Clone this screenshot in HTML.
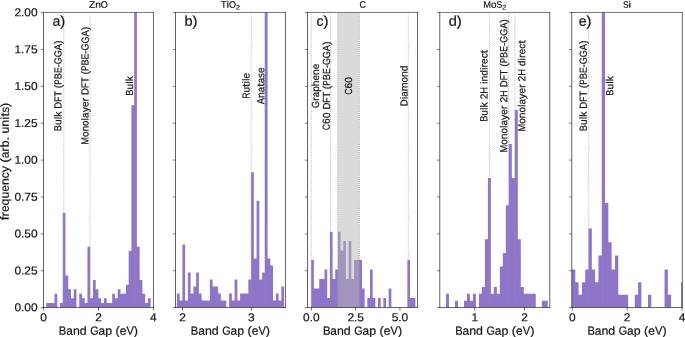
<!DOCTYPE html>
<html><head><meta charset="utf-8"><title>Band gap histograms</title>
<style>html,body{margin:0;padding:0;background:#fff}svg{display:block;will-change:transform}text{font-family:"Liberation Sans",sans-serif;fill:#141414;stroke:#141414;stroke-width:0.2px}</style></head><body>
<svg width="685" height="337" viewBox="0 0 685 337">
<rect x="0" y="0" width="685" height="337" fill="#fff"/>
<defs>
<clipPath id="cp0"><rect x="43.50" y="12.50" width="109.95" height="295.00"/></clipPath>
<clipPath id="cp1"><rect x="175.50" y="12.50" width="109.95" height="295.00"/></clipPath>
<clipPath id="cp2"><rect x="307.50" y="12.50" width="110.05" height="295.00"/></clipPath>
<clipPath id="cp3"><rect x="439.75" y="12.50" width="110.05" height="295.00"/></clipPath>
<clipPath id="cp4"><rect x="571.75" y="12.50" width="110.55" height="295.00"/></clipPath>
</defs>
<g clip-path="url(#cp0)">
<path d="M43.50 307.50 L43.50 307.50 L46.25 307.50 L46.25 302.93 L48.99 302.93 L48.99 302.93 L51.74 302.93 L51.74 302.93 L54.49 302.93 L54.49 293.78 L57.24 293.78 L57.24 307.50 L59.98 307.50 L59.98 302.93 L62.73 302.93 L62.73 213.10 L65.48 213.10 L65.48 275.49 L68.23 275.49 L68.23 289.21 L70.97 289.21 L70.97 298.36 L73.72 298.36 L73.72 289.21 L76.47 289.21 L76.47 307.50 L79.22 307.50 L79.22 293.78 L81.97 293.78 L81.97 298.36 L84.71 298.36 L84.71 302.93 L87.46 302.93 L87.46 246.73 L90.21 246.73 L90.21 298.36 L92.95 298.36 L92.95 280.06 L95.70 280.06 L95.70 289.21 L98.45 289.21 L98.45 298.36 L101.20 298.36 L101.20 302.93 L103.94 302.93 L103.94 298.36 L106.69 298.36 L106.69 302.93 L109.44 302.93 L109.44 302.93 L112.19 302.93 L112.19 293.78 L114.94 293.78 L114.94 298.36 L117.68 298.36 L117.68 289.21 L120.43 289.21 L120.43 293.78 L123.18 293.78 L123.18 293.78 L125.92 293.78 L125.92 284.64 L128.67 284.64 L128.67 251.01 L131.42 251.01 L131.42 105.28 L134.17 105.28 L134.17 -31.75 L136.92 -31.75 L136.92 246.73 L139.66 246.73 L139.66 280.06 L142.41 280.06 L142.41 293.78 L145.16 293.78 L145.16 302.93 L147.91 302.93 L147.91 298.36 L150.65 298.36 L150.65 307.50 L153.40 307.50 L153.40 307.50 Z" fill="#8f75c9"/>
<line x1="63.80" y1="307.50" x2="63.80" y2="12.50" stroke="#959595" stroke-width="0.8" stroke-dasharray="0.8 1.26"/>
<line x1="90.05" y1="307.50" x2="90.05" y2="12.50" stroke="#959595" stroke-width="0.8" stroke-dasharray="0.8 1.26"/>
<line x1="135.90" y1="307.50" x2="135.90" y2="12.50" stroke="#959595" stroke-width="0.8" stroke-dasharray="0.8 1.26"/>
</g>
<path d="M43.50 12.20V307.80M153.45 12.20V307.80" fill="none" stroke="#000" stroke-width="0.62"/>
<path d="M43.20 12.45H153.75" fill="none" stroke="#000" stroke-width="0.54"/>
<path d="M43.20 307.50H153.75" fill="none" stroke="#000" stroke-width="0.6"/>
<line x1="40.80" y1="307.60" x2="43.50" y2="307.60" stroke="#000" stroke-width="0.5"/>
<g transform="translate(37.60 311.30) rotate(0.04)" font-size="11.43"><text x="-23.19" textLength="6.63" lengthAdjust="spacingAndGlyphs">0</text><text x="-16.57" textLength="3.31" lengthAdjust="spacingAndGlyphs">.</text><text x="-13.25" textLength="6.63" lengthAdjust="spacingAndGlyphs">0</text><text x="-6.63" textLength="6.63" lengthAdjust="spacingAndGlyphs">0</text></g>
<line x1="40.80" y1="270.73" x2="43.50" y2="270.73" stroke="#000" stroke-width="0.5"/>
<g transform="translate(37.60 274.43) rotate(0.04)" font-size="11.43"><text x="-23.19" textLength="6.63" lengthAdjust="spacingAndGlyphs">0</text><text x="-16.57" textLength="3.31" lengthAdjust="spacingAndGlyphs">.</text><text x="-13.25" textLength="6.63" lengthAdjust="spacingAndGlyphs">2</text><text x="-6.63" textLength="6.63" lengthAdjust="spacingAndGlyphs">5</text></g>
<line x1="40.80" y1="233.85" x2="43.50" y2="233.85" stroke="#000" stroke-width="0.5"/>
<g transform="translate(37.60 237.55) rotate(0.04)" font-size="11.43"><text x="-23.19" textLength="6.63" lengthAdjust="spacingAndGlyphs">0</text><text x="-16.57" textLength="3.31" lengthAdjust="spacingAndGlyphs">.</text><text x="-13.25" textLength="6.63" lengthAdjust="spacingAndGlyphs">5</text><text x="-6.63" textLength="6.63" lengthAdjust="spacingAndGlyphs">0</text></g>
<line x1="40.80" y1="196.97" x2="43.50" y2="196.97" stroke="#000" stroke-width="0.5"/>
<g transform="translate(37.60 200.68) rotate(0.04)" font-size="11.43"><text x="-23.19" textLength="6.63" lengthAdjust="spacingAndGlyphs">0</text><text x="-16.57" textLength="3.31" lengthAdjust="spacingAndGlyphs">.</text><text x="-13.25" textLength="6.63" lengthAdjust="spacingAndGlyphs">7</text><text x="-6.63" textLength="6.63" lengthAdjust="spacingAndGlyphs">5</text></g>
<line x1="40.80" y1="160.10" x2="43.50" y2="160.10" stroke="#000" stroke-width="0.5"/>
<g transform="translate(37.60 163.80) rotate(0.04)" font-size="11.43"><text x="-23.19" textLength="6.63" lengthAdjust="spacingAndGlyphs">1</text><text x="-16.57" textLength="3.31" lengthAdjust="spacingAndGlyphs">.</text><text x="-13.25" textLength="6.63" lengthAdjust="spacingAndGlyphs">0</text><text x="-6.63" textLength="6.63" lengthAdjust="spacingAndGlyphs">0</text></g>
<line x1="40.80" y1="123.22" x2="43.50" y2="123.22" stroke="#000" stroke-width="0.5"/>
<g transform="translate(37.60 126.92) rotate(0.04)" font-size="11.43"><text x="-23.19" textLength="6.63" lengthAdjust="spacingAndGlyphs">1</text><text x="-16.57" textLength="3.31" lengthAdjust="spacingAndGlyphs">.</text><text x="-13.25" textLength="6.63" lengthAdjust="spacingAndGlyphs">2</text><text x="-6.63" textLength="6.63" lengthAdjust="spacingAndGlyphs">5</text></g>
<line x1="40.80" y1="86.35" x2="43.50" y2="86.35" stroke="#000" stroke-width="0.5"/>
<g transform="translate(37.60 90.05) rotate(0.04)" font-size="11.43"><text x="-23.19" textLength="6.63" lengthAdjust="spacingAndGlyphs">1</text><text x="-16.57" textLength="3.31" lengthAdjust="spacingAndGlyphs">.</text><text x="-13.25" textLength="6.63" lengthAdjust="spacingAndGlyphs">5</text><text x="-6.63" textLength="6.63" lengthAdjust="spacingAndGlyphs">0</text></g>
<line x1="40.80" y1="49.48" x2="43.50" y2="49.48" stroke="#000" stroke-width="0.5"/>
<g transform="translate(37.60 53.17) rotate(0.04)" font-size="11.43"><text x="-23.19" textLength="6.63" lengthAdjust="spacingAndGlyphs">1</text><text x="-16.57" textLength="3.31" lengthAdjust="spacingAndGlyphs">.</text><text x="-13.25" textLength="6.63" lengthAdjust="spacingAndGlyphs">7</text><text x="-6.63" textLength="6.63" lengthAdjust="spacingAndGlyphs">5</text></g>
<line x1="40.80" y1="12.60" x2="43.50" y2="12.60" stroke="#000" stroke-width="0.5"/>
<g transform="translate(37.60 16.30) rotate(0.04)" font-size="11.43"><text x="-23.19" textLength="6.63" lengthAdjust="spacingAndGlyphs">2</text><text x="-16.57" textLength="3.31" lengthAdjust="spacingAndGlyphs">.</text><text x="-13.25" textLength="6.63" lengthAdjust="spacingAndGlyphs">0</text><text x="-6.63" textLength="6.63" lengthAdjust="spacingAndGlyphs">0</text></g>
<line x1="43.55" y1="307.50" x2="43.55" y2="310.60" stroke="#000" stroke-width="0.55"/>
<g transform="translate(43.55 321.30) rotate(0.04)" font-size="11.43"><text x="-3.31" textLength="6.63" lengthAdjust="spacingAndGlyphs">0</text></g>
<line x1="98.50" y1="307.50" x2="98.50" y2="310.60" stroke="#000" stroke-width="0.55"/>
<g transform="translate(98.50 321.30) rotate(0.04)" font-size="11.43"><text x="-3.31" textLength="6.63" lengthAdjust="spacingAndGlyphs">2</text></g>
<line x1="153.40" y1="307.50" x2="153.40" y2="310.60" stroke="#000" stroke-width="0.55"/>
<g transform="translate(153.40 321.30) rotate(0.04)" font-size="11.43"><text x="-3.31" textLength="6.63" lengthAdjust="spacingAndGlyphs">4</text></g>
<g transform="translate(98.47 334.80) rotate(0.04)" font-size="11.90"><text x="-39.64" textLength="7.44" lengthAdjust="spacingAndGlyphs">B</text><text x="-32.19" textLength="6.65" lengthAdjust="spacingAndGlyphs">a</text><text x="-25.54" textLength="6.88" lengthAdjust="spacingAndGlyphs">n</text><text x="-18.66" textLength="6.89" lengthAdjust="spacingAndGlyphs">d</text><text x="-8.32" textLength="8.41" lengthAdjust="spacingAndGlyphs">G</text><text x="0.09" textLength="6.65" lengthAdjust="spacingAndGlyphs">a</text><text x="6.74" textLength="6.89" lengthAdjust="spacingAndGlyphs">p</text><text x="17.08" textLength="4.23" lengthAdjust="spacingAndGlyphs">(</text><text x="21.31" textLength="6.67" lengthAdjust="spacingAndGlyphs">e</text><text x="27.98" textLength="7.42" lengthAdjust="spacingAndGlyphs">V</text><text x="35.40" textLength="4.23" lengthAdjust="spacingAndGlyphs">)</text></g>
<g transform="translate(52.50 25.70) rotate(0.04)" font-size="14.04"><text x="0.00" textLength="7.85" lengthAdjust="spacingAndGlyphs">a</text><text x="7.85" textLength="4.99" lengthAdjust="spacingAndGlyphs">)</text></g>
<g clip-path="url(#cp1)">
<path d="M176.90 307.50 L176.90 293.49 L179.65 293.49 L179.65 300.49 L182.40 300.49 L182.40 244.44 L185.14 244.44 L185.14 300.49 L187.89 300.49 L187.89 272.47 L190.64 272.47 L190.64 293.49 L193.39 293.49 L193.39 286.48 L196.14 286.48 L196.14 272.47 L198.88 272.47 L198.88 293.49 L201.63 293.49 L201.63 300.49 L204.38 300.49 L204.38 300.49 L207.13 300.49 L207.13 300.49 L209.88 300.49 L209.88 279.48 L212.62 279.48 L212.62 286.48 L215.37 286.48 L215.37 286.48 L218.12 286.48 L218.12 293.49 L220.87 293.49 L220.87 300.49 L223.62 300.49 L223.62 300.49 L226.36 300.49 L226.36 307.50 L229.11 307.50 L229.11 293.49 L231.86 293.49 L231.86 300.49 L234.61 300.49 L234.61 279.48 L237.36 279.48 L237.36 300.49 L240.10 300.49 L240.10 293.49 L242.85 293.49 L242.85 293.49 L245.60 293.49 L245.60 293.49 L248.35 293.49 L248.35 279.48 L251.10 279.48 L251.10 172.24 L253.84 172.24 L253.84 258.46 L256.59 258.46 L256.59 200.65 L259.34 200.65 L259.34 279.48 L262.09 279.48 L262.09 272.47 L264.84 272.47 L264.84 -31.75 L267.58 -31.75 L267.58 258.46 L270.33 258.46 L270.33 265.46 L273.08 265.46 L273.08 300.49 L275.83 300.49 L275.83 293.49 L278.58 293.49 L278.58 300.49 L281.32 300.49 L281.32 286.48 L284.07 286.48 L284.07 307.50 Z" fill="#8f75c9"/>
<line x1="251.20" y1="307.50" x2="251.20" y2="12.50" stroke="#959595" stroke-width="0.8" stroke-dasharray="0.8 1.26"/>
<line x1="264.95" y1="307.50" x2="264.95" y2="12.50" stroke="#959595" stroke-width="0.8" stroke-dasharray="0.8 1.26"/>
</g>
<path d="M175.50 12.20V307.80M285.45 12.20V307.80" fill="none" stroke="#000" stroke-width="0.62"/>
<path d="M175.20 12.45H285.75" fill="none" stroke="#000" stroke-width="0.54"/>
<path d="M175.20 307.50H285.75" fill="none" stroke="#000" stroke-width="0.6"/>
<line x1="172.80" y1="307.60" x2="175.50" y2="307.60" stroke="#000" stroke-width="0.5"/>
<line x1="172.80" y1="270.73" x2="175.50" y2="270.73" stroke="#000" stroke-width="0.5"/>
<line x1="172.80" y1="233.85" x2="175.50" y2="233.85" stroke="#000" stroke-width="0.5"/>
<line x1="172.80" y1="196.97" x2="175.50" y2="196.97" stroke="#000" stroke-width="0.5"/>
<line x1="172.80" y1="160.10" x2="175.50" y2="160.10" stroke="#000" stroke-width="0.5"/>
<line x1="172.80" y1="123.22" x2="175.50" y2="123.22" stroke="#000" stroke-width="0.5"/>
<line x1="172.80" y1="86.35" x2="175.50" y2="86.35" stroke="#000" stroke-width="0.5"/>
<line x1="172.80" y1="49.48" x2="175.50" y2="49.48" stroke="#000" stroke-width="0.5"/>
<line x1="172.80" y1="12.60" x2="175.50" y2="12.60" stroke="#000" stroke-width="0.5"/>
<line x1="182.50" y1="307.50" x2="182.50" y2="310.60" stroke="#000" stroke-width="0.55"/>
<g transform="translate(182.50 321.30) rotate(0.04)" font-size="11.43"><text x="-3.31" textLength="6.63" lengthAdjust="spacingAndGlyphs">2</text></g>
<line x1="251.25" y1="307.50" x2="251.25" y2="310.60" stroke="#000" stroke-width="0.55"/>
<g transform="translate(251.25 321.30) rotate(0.04)" font-size="11.43"><text x="-3.31" textLength="6.63" lengthAdjust="spacingAndGlyphs">3</text></g>
<g transform="translate(230.47 334.80) rotate(0.04)" font-size="11.90"><text x="-39.64" textLength="7.44" lengthAdjust="spacingAndGlyphs">B</text><text x="-32.19" textLength="6.65" lengthAdjust="spacingAndGlyphs">a</text><text x="-25.54" textLength="6.88" lengthAdjust="spacingAndGlyphs">n</text><text x="-18.66" textLength="6.89" lengthAdjust="spacingAndGlyphs">d</text><text x="-8.32" textLength="8.41" lengthAdjust="spacingAndGlyphs">G</text><text x="0.09" textLength="6.65" lengthAdjust="spacingAndGlyphs">a</text><text x="6.74" textLength="6.89" lengthAdjust="spacingAndGlyphs">p</text><text x="17.08" textLength="4.23" lengthAdjust="spacingAndGlyphs">(</text><text x="21.31" textLength="6.67" lengthAdjust="spacingAndGlyphs">e</text><text x="27.98" textLength="7.42" lengthAdjust="spacingAndGlyphs">V</text><text x="35.40" textLength="4.23" lengthAdjust="spacingAndGlyphs">)</text></g>
<g transform="translate(184.50 25.70) rotate(0.04)" font-size="14.04"><text x="0.00" textLength="8.13" lengthAdjust="spacingAndGlyphs">b</text><text x="8.13" textLength="4.99" lengthAdjust="spacingAndGlyphs">)</text></g>
<g clip-path="url(#cp2)">
<path d="M311.20 307.50 L311.20 260.08 L313.87 260.08 L313.87 288.53 L316.54 288.53 L316.54 288.53 L319.22 288.53 L319.22 279.05 L321.89 279.05 L321.89 279.05 L324.56 279.05 L324.56 269.56 L327.23 269.56 L327.23 298.02 L329.90 298.02 L329.90 231.63 L332.58 231.63 L332.58 279.05 L335.25 279.05 L335.25 269.56 L337.92 269.56 L337.92 231.63 L340.59 231.63 L340.59 250.59 L343.26 250.59 L343.26 241.11 L345.94 241.11 L345.94 279.05 L348.61 279.05 L348.61 241.11 L351.28 241.11 L351.28 279.05 L353.95 279.05 L353.95 260.08 L356.62 260.08 L356.62 260.08 L359.30 260.08 L359.30 260.08 L361.97 260.08 L361.97 288.53 L364.64 288.53 L364.64 307.50 L367.31 307.50 L367.31 298.02 L369.98 298.02 L369.98 269.56 L372.66 269.56 L372.66 298.02 L375.33 298.02 L375.33 307.50 L378.00 307.50 L378.00 298.02 L380.67 298.02 L380.67 307.50 L383.34 307.50 L383.34 298.02 L386.02 298.02 L386.02 307.50 L388.69 307.50 L388.69 288.53 L391.36 288.53 L391.36 307.50 L394.03 307.50 L394.03 307.50 L396.70 307.50 L396.70 307.50 L399.38 307.50 L399.38 307.50 L402.05 307.50 L402.05 307.50 L404.72 307.50 L404.72 307.50 L407.39 307.50 L407.39 260.08 L410.06 260.08 L410.06 298.02 L412.74 298.02 L412.74 298.02 L415.41 298.02 L415.41 307.50 Z" fill="#8f75c9"/>
<rect x="337.75" y="12.50" width="21.6" height="295.00" fill="#b3b5b4" fill-opacity="0.5"/>
<line x1="311.30" y1="307.50" x2="311.30" y2="12.50" stroke="#959595" stroke-width="0.8" stroke-dasharray="0.8 1.26"/>
<line x1="330.50" y1="307.50" x2="330.50" y2="12.50" stroke="#959595" stroke-width="0.8" stroke-dasharray="0.8 1.26"/>
<line x1="337.75" y1="307.50" x2="337.75" y2="12.50" stroke="#959595" stroke-width="0.8" stroke-dasharray="0.8 1.26"/>
<line x1="359.35" y1="307.50" x2="359.35" y2="12.50" stroke="#959595" stroke-width="0.8" stroke-dasharray="0.8 1.26"/>
<line x1="408.30" y1="307.50" x2="408.30" y2="12.50" stroke="#959595" stroke-width="0.8" stroke-dasharray="0.8 1.26"/>
</g>
<path d="M307.50 12.20V307.80M417.55 12.20V307.80" fill="none" stroke="#000" stroke-width="0.62"/>
<path d="M307.20 12.45H417.85" fill="none" stroke="#000" stroke-width="0.54"/>
<path d="M307.20 307.50H417.85" fill="none" stroke="#000" stroke-width="0.6"/>
<line x1="304.80" y1="307.60" x2="307.50" y2="307.60" stroke="#000" stroke-width="0.5"/>
<line x1="304.80" y1="270.73" x2="307.50" y2="270.73" stroke="#000" stroke-width="0.5"/>
<line x1="304.80" y1="233.85" x2="307.50" y2="233.85" stroke="#000" stroke-width="0.5"/>
<line x1="304.80" y1="196.97" x2="307.50" y2="196.97" stroke="#000" stroke-width="0.5"/>
<line x1="304.80" y1="160.10" x2="307.50" y2="160.10" stroke="#000" stroke-width="0.5"/>
<line x1="304.80" y1="123.22" x2="307.50" y2="123.22" stroke="#000" stroke-width="0.5"/>
<line x1="304.80" y1="86.35" x2="307.50" y2="86.35" stroke="#000" stroke-width="0.5"/>
<line x1="304.80" y1="49.48" x2="307.50" y2="49.48" stroke="#000" stroke-width="0.5"/>
<line x1="304.80" y1="12.60" x2="307.50" y2="12.60" stroke="#000" stroke-width="0.5"/>
<line x1="311.35" y1="307.50" x2="311.35" y2="310.60" stroke="#000" stroke-width="0.55"/>
<g transform="translate(311.35 321.30) rotate(0.04)" font-size="11.43"><text x="-8.28" textLength="6.63" lengthAdjust="spacingAndGlyphs">0</text><text x="-1.66" textLength="3.31" lengthAdjust="spacingAndGlyphs">.</text><text x="1.66" textLength="6.63" lengthAdjust="spacingAndGlyphs">0</text></g>
<line x1="355.65" y1="307.50" x2="355.65" y2="310.60" stroke="#000" stroke-width="0.55"/>
<g transform="translate(355.65 321.30) rotate(0.04)" font-size="11.43"><text x="-8.28" textLength="6.63" lengthAdjust="spacingAndGlyphs">2</text><text x="-1.66" textLength="3.31" lengthAdjust="spacingAndGlyphs">.</text><text x="1.66" textLength="6.63" lengthAdjust="spacingAndGlyphs">5</text></g>
<line x1="399.95" y1="307.50" x2="399.95" y2="310.60" stroke="#000" stroke-width="0.55"/>
<g transform="translate(399.95 321.30) rotate(0.04)" font-size="11.43"><text x="-8.28" textLength="6.63" lengthAdjust="spacingAndGlyphs">5</text><text x="-1.66" textLength="3.31" lengthAdjust="spacingAndGlyphs">.</text><text x="1.66" textLength="6.63" lengthAdjust="spacingAndGlyphs">0</text></g>
<g transform="translate(362.52 334.80) rotate(0.04)" font-size="11.90"><text x="-39.64" textLength="7.44" lengthAdjust="spacingAndGlyphs">B</text><text x="-32.19" textLength="6.65" lengthAdjust="spacingAndGlyphs">a</text><text x="-25.54" textLength="6.88" lengthAdjust="spacingAndGlyphs">n</text><text x="-18.66" textLength="6.89" lengthAdjust="spacingAndGlyphs">d</text><text x="-8.32" textLength="8.41" lengthAdjust="spacingAndGlyphs">G</text><text x="0.09" textLength="6.65" lengthAdjust="spacingAndGlyphs">a</text><text x="6.74" textLength="6.89" lengthAdjust="spacingAndGlyphs">p</text><text x="17.08" textLength="4.23" lengthAdjust="spacingAndGlyphs">(</text><text x="21.31" textLength="6.67" lengthAdjust="spacingAndGlyphs">e</text><text x="27.98" textLength="7.42" lengthAdjust="spacingAndGlyphs">V</text><text x="35.40" textLength="4.23" lengthAdjust="spacingAndGlyphs">)</text></g>
<g transform="translate(316.50 25.70) rotate(0.04)" font-size="14.04"><text x="0.00" textLength="7.04" lengthAdjust="spacingAndGlyphs">c</text><text x="7.04" textLength="4.99" lengthAdjust="spacingAndGlyphs">)</text></g>
<g clip-path="url(#cp3)">
<path d="M440.00 307.50 L440.00 307.50 L442.99 307.50 L442.99 307.50 L445.99 307.50 L445.99 293.87 L448.98 293.87 L448.98 307.50 L451.97 307.50 L451.97 307.50 L454.96 307.50 L454.96 300.69 L457.96 300.69 L457.96 307.50 L460.95 307.50 L460.95 307.50 L463.94 307.50 L463.94 300.69 L466.94 300.69 L466.94 293.87 L469.93 293.87 L469.93 300.69 L472.92 300.69 L472.92 293.87 L475.92 293.87 L475.92 307.50 L478.91 307.50 L478.91 293.87 L481.90 293.87 L481.90 287.06 L484.89 287.06 L484.89 239.36 L487.89 239.36 L487.89 178.02 L490.88 178.02 L490.88 293.87 L493.87 293.87 L493.87 287.06 L496.87 287.06 L496.87 293.87 L499.86 293.87 L499.86 266.61 L502.85 266.61 L502.85 252.98 L505.85 252.98 L505.85 205.28 L508.84 205.28 L508.84 143.95 L511.83 143.95 L511.83 178.02 L514.83 178.02 L514.83 109.88 L517.82 109.88 L517.82 239.36 L520.81 239.36 L520.81 287.06 L523.80 287.06 L523.80 293.87 L526.80 293.87 L526.80 293.87 L529.79 293.87 L529.79 293.87 L532.78 293.87 L532.78 293.87 L535.78 293.87 L535.78 307.50 L538.77 307.50 L538.77 307.50 L541.76 307.50 L541.76 300.69 L544.75 300.69 L544.75 300.69 L547.75 300.69 L547.75 307.50 Z" fill="#8f75c9"/>
<line x1="489.60" y1="307.50" x2="489.60" y2="12.50" stroke="#959595" stroke-width="0.8" stroke-dasharray="0.8 1.26"/>
<line x1="508.60" y1="307.50" x2="508.60" y2="12.50" stroke="#959595" stroke-width="0.8" stroke-dasharray="0.8 1.26"/>
<line x1="514.90" y1="307.50" x2="514.90" y2="12.50" stroke="#959595" stroke-width="0.8" stroke-dasharray="0.8 1.26"/>
</g>
<path d="M439.75 12.20V307.80M549.80 12.20V307.80" fill="none" stroke="#000" stroke-width="0.62"/>
<path d="M439.45 12.45H550.10" fill="none" stroke="#000" stroke-width="0.54"/>
<path d="M439.45 307.50H550.10" fill="none" stroke="#000" stroke-width="0.6"/>
<line x1="437.05" y1="307.60" x2="439.75" y2="307.60" stroke="#000" stroke-width="0.5"/>
<line x1="437.05" y1="270.73" x2="439.75" y2="270.73" stroke="#000" stroke-width="0.5"/>
<line x1="437.05" y1="233.85" x2="439.75" y2="233.85" stroke="#000" stroke-width="0.5"/>
<line x1="437.05" y1="196.97" x2="439.75" y2="196.97" stroke="#000" stroke-width="0.5"/>
<line x1="437.05" y1="160.10" x2="439.75" y2="160.10" stroke="#000" stroke-width="0.5"/>
<line x1="437.05" y1="123.22" x2="439.75" y2="123.22" stroke="#000" stroke-width="0.5"/>
<line x1="437.05" y1="86.35" x2="439.75" y2="86.35" stroke="#000" stroke-width="0.5"/>
<line x1="437.05" y1="49.48" x2="439.75" y2="49.48" stroke="#000" stroke-width="0.5"/>
<line x1="437.05" y1="12.60" x2="439.75" y2="12.60" stroke="#000" stroke-width="0.5"/>
<line x1="474.80" y1="307.50" x2="474.80" y2="310.60" stroke="#000" stroke-width="0.55"/>
<g transform="translate(474.80 321.30) rotate(0.04)" font-size="11.43"><text x="-3.31" textLength="6.63" lengthAdjust="spacingAndGlyphs">1</text></g>
<line x1="524.60" y1="307.50" x2="524.60" y2="310.60" stroke="#000" stroke-width="0.55"/>
<g transform="translate(524.60 321.30) rotate(0.04)" font-size="11.43"><text x="-3.31" textLength="6.63" lengthAdjust="spacingAndGlyphs">2</text></g>
<g transform="translate(494.77 334.80) rotate(0.04)" font-size="11.90"><text x="-39.64" textLength="7.44" lengthAdjust="spacingAndGlyphs">B</text><text x="-32.19" textLength="6.65" lengthAdjust="spacingAndGlyphs">a</text><text x="-25.54" textLength="6.88" lengthAdjust="spacingAndGlyphs">n</text><text x="-18.66" textLength="6.89" lengthAdjust="spacingAndGlyphs">d</text><text x="-8.32" textLength="8.41" lengthAdjust="spacingAndGlyphs">G</text><text x="0.09" textLength="6.65" lengthAdjust="spacingAndGlyphs">a</text><text x="6.74" textLength="6.89" lengthAdjust="spacingAndGlyphs">p</text><text x="17.08" textLength="4.23" lengthAdjust="spacingAndGlyphs">(</text><text x="21.31" textLength="6.67" lengthAdjust="spacingAndGlyphs">e</text><text x="27.98" textLength="7.42" lengthAdjust="spacingAndGlyphs">V</text><text x="35.40" textLength="4.23" lengthAdjust="spacingAndGlyphs">)</text></g>
<g transform="translate(448.75 25.70) rotate(0.04)" font-size="14.04"><text x="0.00" textLength="8.13" lengthAdjust="spacingAndGlyphs">d</text><text x="8.13" textLength="4.99" lengthAdjust="spacingAndGlyphs">)</text></g>
<g clip-path="url(#cp4)">
<path d="M572.00 307.50 L572.00 269.53 L575.30 269.53 L575.30 282.19 L578.61 282.19 L578.61 294.84 L581.91 294.84 L581.91 282.19 L585.22 282.19 L585.22 269.53 L588.52 269.53 L588.52 228.40 L591.83 228.40 L591.83 269.53 L595.13 269.53 L595.13 282.19 L598.44 282.19 L598.44 255.61 L601.75 255.61 L601.75 -31.75 L605.05 -31.75 L605.05 203.09 L608.36 203.09 L608.36 242.32 L611.66 242.32 L611.66 269.53 L614.97 269.53 L614.97 255.61 L618.27 255.61 L618.27 294.84 L621.58 294.84 L621.58 294.84 L624.88 294.84 L624.88 294.84 L628.18 294.84 L628.18 307.50 L631.49 307.50 L631.49 307.50 L634.79 307.50 L634.79 294.84 L638.10 294.84 L638.10 282.19 L641.40 282.19 L641.40 307.50 L644.71 307.50 L644.71 307.50 L648.01 307.50 L648.01 294.84 L651.32 294.84 L651.32 307.50 L654.62 307.50 L654.62 307.50 L657.93 307.50 L657.93 307.50 L661.24 307.50 L661.24 307.50 L664.54 307.50 L664.54 269.53 L667.85 269.53 L667.85 294.84 L671.15 294.84 L671.15 307.50 L674.46 307.50 L674.46 307.50 L677.76 307.50 L677.76 307.50 L681.07 307.50 L681.07 282.19 L684.37 282.19 L684.37 307.50 Z" fill="#8f75c9"/>
<line x1="588.70" y1="307.50" x2="588.70" y2="12.50" stroke="#959595" stroke-width="0.8" stroke-dasharray="0.8 1.26"/>
<line x1="602.60" y1="307.50" x2="602.60" y2="12.50" stroke="#959595" stroke-width="0.8" stroke-dasharray="0.8 1.26"/>
</g>
<path d="M571.75 12.20V307.80M682.30 12.20V307.80" fill="none" stroke="#000" stroke-width="0.62"/>
<path d="M571.45 12.45H682.60" fill="none" stroke="#000" stroke-width="0.54"/>
<path d="M571.45 307.50H682.60" fill="none" stroke="#000" stroke-width="0.6"/>
<line x1="569.05" y1="307.60" x2="571.75" y2="307.60" stroke="#000" stroke-width="0.5"/>
<line x1="569.05" y1="270.73" x2="571.75" y2="270.73" stroke="#000" stroke-width="0.5"/>
<line x1="569.05" y1="233.85" x2="571.75" y2="233.85" stroke="#000" stroke-width="0.5"/>
<line x1="569.05" y1="196.97" x2="571.75" y2="196.97" stroke="#000" stroke-width="0.5"/>
<line x1="569.05" y1="160.10" x2="571.75" y2="160.10" stroke="#000" stroke-width="0.5"/>
<line x1="569.05" y1="123.22" x2="571.75" y2="123.22" stroke="#000" stroke-width="0.5"/>
<line x1="569.05" y1="86.35" x2="571.75" y2="86.35" stroke="#000" stroke-width="0.5"/>
<line x1="569.05" y1="49.48" x2="571.75" y2="49.48" stroke="#000" stroke-width="0.5"/>
<line x1="569.05" y1="12.60" x2="571.75" y2="12.60" stroke="#000" stroke-width="0.5"/>
<line x1="572.30" y1="307.50" x2="572.30" y2="310.60" stroke="#000" stroke-width="0.55"/>
<g transform="translate(572.30 321.30) rotate(0.04)" font-size="11.43"><text x="-3.31" textLength="6.63" lengthAdjust="spacingAndGlyphs">0</text></g>
<line x1="627.10" y1="307.50" x2="627.10" y2="310.60" stroke="#000" stroke-width="0.55"/>
<g transform="translate(627.10 321.30) rotate(0.04)" font-size="11.43"><text x="-3.31" textLength="6.63" lengthAdjust="spacingAndGlyphs">2</text></g>
<line x1="682.00" y1="307.50" x2="682.00" y2="310.60" stroke="#000" stroke-width="0.55"/>
<g transform="translate(682.00 321.30) rotate(0.04)" font-size="11.43"><text x="-3.31" textLength="6.63" lengthAdjust="spacingAndGlyphs">4</text></g>
<g transform="translate(627.02 334.80) rotate(0.04)" font-size="11.90"><text x="-39.64" textLength="7.44" lengthAdjust="spacingAndGlyphs">B</text><text x="-32.19" textLength="6.65" lengthAdjust="spacingAndGlyphs">a</text><text x="-25.54" textLength="6.88" lengthAdjust="spacingAndGlyphs">n</text><text x="-18.66" textLength="6.89" lengthAdjust="spacingAndGlyphs">d</text><text x="-8.32" textLength="8.41" lengthAdjust="spacingAndGlyphs">G</text><text x="0.09" textLength="6.65" lengthAdjust="spacingAndGlyphs">a</text><text x="6.74" textLength="6.89" lengthAdjust="spacingAndGlyphs">p</text><text x="17.08" textLength="4.23" lengthAdjust="spacingAndGlyphs">(</text><text x="21.31" textLength="6.67" lengthAdjust="spacingAndGlyphs">e</text><text x="27.98" textLength="7.42" lengthAdjust="spacingAndGlyphs">V</text><text x="35.40" textLength="4.23" lengthAdjust="spacingAndGlyphs">)</text></g>
<g transform="translate(578.75 25.70) rotate(0.04)" font-size="14.04"><text x="0.00" textLength="7.87" lengthAdjust="spacingAndGlyphs">e</text><text x="7.87" textLength="4.99" lengthAdjust="spacingAndGlyphs">)</text></g>
<g transform="translate(89.00 7.65) rotate(0.04)" font-size="9.38"><text x="0.00" textLength="6.17" lengthAdjust="spacingAndGlyphs">Z</text><text x="6.17" textLength="5.71" lengthAdjust="spacingAndGlyphs">n</text><text x="11.87" textLength="7.08" lengthAdjust="spacingAndGlyphs">O</text></g>
<g transform="translate(220.93 7.65) rotate(0.04)" font-size="9.38"><text x="0.00" textLength="5.50" lengthAdjust="spacingAndGlyphs">T</text><text x="5.50" textLength="2.50" lengthAdjust="spacingAndGlyphs">i</text><text x="8.00" textLength="7.08" lengthAdjust="spacingAndGlyphs">O</text></g>
<g transform="translate(236.01 9.50) rotate(0.04)" font-size="6.56"><text x="0.00" textLength="4.01" lengthAdjust="spacingAndGlyphs">2</text></g>
<g transform="translate(359.38 7.65) rotate(0.04)" font-size="9.38"><text x="0.00" textLength="6.28" lengthAdjust="spacingAndGlyphs">C</text></g>
<g transform="translate(483.28 7.65) rotate(0.04)" font-size="9.38"><text x="0.00" textLength="7.77" lengthAdjust="spacingAndGlyphs">M</text><text x="7.77" textLength="5.51" lengthAdjust="spacingAndGlyphs">o</text><text x="13.27" textLength="5.71" lengthAdjust="spacingAndGlyphs">S</text></g>
<g transform="translate(502.27 9.50) rotate(0.04)" font-size="6.56"><text x="0.00" textLength="4.01" lengthAdjust="spacingAndGlyphs">2</text></g>
<g transform="translate(622.92 7.65) rotate(0.04)" font-size="9.38"><text x="0.00" textLength="5.71" lengthAdjust="spacingAndGlyphs">S</text><text x="5.71" textLength="2.50" lengthAdjust="spacingAndGlyphs">i</text></g>
<g transform="translate(8.85 161.50) rotate(-89.96)" font-size="11.84"><text x="-58.78" textLength="3.80" lengthAdjust="spacingAndGlyphs">f</text><text x="-54.98" textLength="4.44" lengthAdjust="spacingAndGlyphs">r</text><text x="-50.55" textLength="6.64" lengthAdjust="spacingAndGlyphs">e</text><text x="-43.91" textLength="6.86" lengthAdjust="spacingAndGlyphs">q</text><text x="-37.05" textLength="6.84" lengthAdjust="spacingAndGlyphs">u</text><text x="-30.21" textLength="6.64" lengthAdjust="spacingAndGlyphs">e</text><text x="-23.57" textLength="6.84" lengthAdjust="spacingAndGlyphs">n</text><text x="-16.72" textLength="5.94" lengthAdjust="spacingAndGlyphs">c</text><text x="-10.78" textLength="6.39" lengthAdjust="spacingAndGlyphs">y</text><text x="-0.96" textLength="4.21" lengthAdjust="spacingAndGlyphs">(</text><text x="3.25" textLength="6.62" lengthAdjust="spacingAndGlyphs">a</text><text x="9.87" textLength="4.44" lengthAdjust="spacingAndGlyphs">r</text><text x="14.30" textLength="6.86" lengthAdjust="spacingAndGlyphs">b</text><text x="21.16" textLength="3.43" lengthAdjust="spacingAndGlyphs">.</text><text x="28.03" textLength="6.84" lengthAdjust="spacingAndGlyphs">u</text><text x="34.87" textLength="6.84" lengthAdjust="spacingAndGlyphs">n</text><text x="41.71" textLength="3.00" lengthAdjust="spacingAndGlyphs">i</text><text x="44.72" textLength="4.23" lengthAdjust="spacingAndGlyphs">t</text><text x="48.95" textLength="5.62" lengthAdjust="spacingAndGlyphs">s</text><text x="54.57" textLength="4.21" lengthAdjust="spacingAndGlyphs">)</text></g>
<g transform="translate(61.40 85.85) rotate(-89.96)" font-size="10.26"><text x="-45.29" textLength="6.17" lengthAdjust="spacingAndGlyphs">B</text><text x="-39.12" textLength="5.71" lengthAdjust="spacingAndGlyphs">u</text><text x="-33.41" textLength="2.50" lengthAdjust="spacingAndGlyphs">l</text><text x="-30.91" textLength="5.21" lengthAdjust="spacingAndGlyphs">k</text><text x="-22.84" textLength="6.93" lengthAdjust="spacingAndGlyphs">D</text><text x="-15.91" textLength="5.17" lengthAdjust="spacingAndGlyphs">F</text><text x="-10.73" textLength="5.50" lengthAdjust="spacingAndGlyphs">T</text><text x="-2.37" textLength="3.51" lengthAdjust="spacingAndGlyphs">(</text><text x="1.14" textLength="5.43" lengthAdjust="spacingAndGlyphs">P</text><text x="6.57" textLength="6.17" lengthAdjust="spacingAndGlyphs">B</text><text x="12.74" textLength="5.69" lengthAdjust="spacingAndGlyphs">E</text><text x="18.43" textLength="3.25" lengthAdjust="spacingAndGlyphs">-</text><text x="21.68" textLength="6.98" lengthAdjust="spacingAndGlyphs">G</text><text x="28.65" textLength="6.98" lengthAdjust="spacingAndGlyphs">G</text><text x="35.63" textLength="6.16" lengthAdjust="spacingAndGlyphs">A</text><text x="41.78" textLength="3.51" lengthAdjust="spacingAndGlyphs">)</text></g>
<g transform="translate(88.60 85.85) rotate(-89.96)" font-size="10.26"><text x="-59.03" textLength="7.77" lengthAdjust="spacingAndGlyphs">M</text><text x="-51.26" textLength="5.51" lengthAdjust="spacingAndGlyphs">o</text><text x="-45.76" textLength="5.71" lengthAdjust="spacingAndGlyphs">n</text><text x="-40.05" textLength="5.51" lengthAdjust="spacingAndGlyphs">o</text><text x="-34.54" textLength="2.50" lengthAdjust="spacingAndGlyphs">l</text><text x="-32.04" textLength="5.52" lengthAdjust="spacingAndGlyphs">a</text><text x="-26.52" textLength="5.33" lengthAdjust="spacingAndGlyphs">y</text><text x="-21.19" textLength="5.54" lengthAdjust="spacingAndGlyphs">e</text><text x="-15.66" textLength="3.70" lengthAdjust="spacingAndGlyphs">r</text><text x="-9.10" textLength="6.93" lengthAdjust="spacingAndGlyphs">D</text><text x="-2.17" textLength="5.17" lengthAdjust="spacingAndGlyphs">F</text><text x="3.01" textLength="5.50" lengthAdjust="spacingAndGlyphs">T</text><text x="11.37" textLength="3.51" lengthAdjust="spacingAndGlyphs">(</text><text x="14.88" textLength="5.43" lengthAdjust="spacingAndGlyphs">P</text><text x="20.30" textLength="6.17" lengthAdjust="spacingAndGlyphs">B</text><text x="26.48" textLength="5.69" lengthAdjust="spacingAndGlyphs">E</text><text x="32.17" textLength="3.25" lengthAdjust="spacingAndGlyphs">-</text><text x="35.42" textLength="6.98" lengthAdjust="spacingAndGlyphs">G</text><text x="42.39" textLength="6.98" lengthAdjust="spacingAndGlyphs">G</text><text x="49.37" textLength="6.16" lengthAdjust="spacingAndGlyphs">A</text><text x="55.52" textLength="3.51" lengthAdjust="spacingAndGlyphs">)</text></g>
<g transform="translate(132.90 85.85) rotate(-89.96)" font-size="10.26"><text x="-9.80" textLength="6.17" lengthAdjust="spacingAndGlyphs">B</text><text x="-3.62" textLength="5.71" lengthAdjust="spacingAndGlyphs">u</text><text x="2.08" textLength="2.50" lengthAdjust="spacingAndGlyphs">l</text><text x="4.59" textLength="5.21" lengthAdjust="spacingAndGlyphs">k</text></g>
<g transform="translate(249.60 85.85) rotate(-89.96)" font-size="10.26"><text x="-13.01" textLength="6.25" lengthAdjust="spacingAndGlyphs">R</text><text x="-6.76" textLength="5.71" lengthAdjust="spacingAndGlyphs">u</text><text x="-1.05" textLength="3.53" lengthAdjust="spacingAndGlyphs">t</text><text x="2.48" textLength="2.50" lengthAdjust="spacingAndGlyphs">i</text><text x="4.98" textLength="2.50" lengthAdjust="spacingAndGlyphs">l</text><text x="7.48" textLength="5.54" lengthAdjust="spacingAndGlyphs">e</text></g>
<g transform="translate(264.20 85.85) rotate(-89.96)" font-size="10.26"><text x="-18.32" textLength="6.16" lengthAdjust="spacingAndGlyphs">A</text><text x="-12.17" textLength="5.71" lengthAdjust="spacingAndGlyphs">n</text><text x="-6.46" textLength="5.52" lengthAdjust="spacingAndGlyphs">a</text><text x="-0.95" textLength="3.53" lengthAdjust="spacingAndGlyphs">t</text><text x="2.58" textLength="5.52" lengthAdjust="spacingAndGlyphs">a</text><text x="8.10" textLength="4.69" lengthAdjust="spacingAndGlyphs">s</text><text x="12.79" textLength="5.54" lengthAdjust="spacingAndGlyphs">e</text></g>
<g transform="translate(318.90 85.85) rotate(-89.96)" font-size="10.26"><text x="-22.19" textLength="6.98" lengthAdjust="spacingAndGlyphs">G</text><text x="-15.22" textLength="3.70" lengthAdjust="spacingAndGlyphs">r</text><text x="-11.52" textLength="5.52" lengthAdjust="spacingAndGlyphs">a</text><text x="-6.00" textLength="5.71" lengthAdjust="spacingAndGlyphs">p</text><text x="-0.29" textLength="5.71" lengthAdjust="spacingAndGlyphs">h</text><text x="5.42" textLength="5.54" lengthAdjust="spacingAndGlyphs">e</text><text x="10.95" textLength="5.71" lengthAdjust="spacingAndGlyphs">n</text><text x="16.66" textLength="5.54" lengthAdjust="spacingAndGlyphs">e</text></g>
<g transform="translate(329.90 85.85) rotate(-89.96)" font-size="10.26"><text x="-44.36" textLength="6.28" lengthAdjust="spacingAndGlyphs">C</text><text x="-38.08" textLength="5.72" lengthAdjust="spacingAndGlyphs">6</text><text x="-32.36" textLength="5.72" lengthAdjust="spacingAndGlyphs">0</text><text x="-23.77" textLength="6.93" lengthAdjust="spacingAndGlyphs">D</text><text x="-16.84" textLength="5.17" lengthAdjust="spacingAndGlyphs">F</text><text x="-11.66" textLength="5.50" lengthAdjust="spacingAndGlyphs">T</text><text x="-3.30" textLength="3.51" lengthAdjust="spacingAndGlyphs">(</text><text x="0.21" textLength="5.43" lengthAdjust="spacingAndGlyphs">P</text><text x="5.63" textLength="6.17" lengthAdjust="spacingAndGlyphs">B</text><text x="11.81" textLength="5.69" lengthAdjust="spacingAndGlyphs">E</text><text x="17.50" textLength="3.25" lengthAdjust="spacingAndGlyphs">-</text><text x="20.74" textLength="6.98" lengthAdjust="spacingAndGlyphs">G</text><text x="27.72" textLength="6.98" lengthAdjust="spacingAndGlyphs">G</text><text x="34.69" textLength="6.16" lengthAdjust="spacingAndGlyphs">A</text><text x="40.85" textLength="3.51" lengthAdjust="spacingAndGlyphs">)</text></g>
<g transform="translate(352.10 85.85) rotate(-89.96)" font-size="10.26"><text x="-8.87" textLength="6.28" lengthAdjust="spacingAndGlyphs">C</text><text x="-2.58" textLength="5.72" lengthAdjust="spacingAndGlyphs">6</text><text x="3.14" textLength="5.72" lengthAdjust="spacingAndGlyphs">0</text></g>
<g transform="translate(407.50 85.85) rotate(-89.96)" font-size="10.26"><text x="-20.32" textLength="6.93" lengthAdjust="spacingAndGlyphs">D</text><text x="-13.39" textLength="2.50" lengthAdjust="spacingAndGlyphs">i</text><text x="-10.89" textLength="5.52" lengthAdjust="spacingAndGlyphs">a</text><text x="-5.37" textLength="8.77" lengthAdjust="spacingAndGlyphs">m</text><text x="3.39" textLength="5.51" lengthAdjust="spacingAndGlyphs">o</text><text x="8.90" textLength="5.71" lengthAdjust="spacingAndGlyphs">n</text><text x="14.61" textLength="5.71" lengthAdjust="spacingAndGlyphs">d</text></g>
<g transform="translate(487.40 85.85) rotate(-89.96)" font-size="10.26"><text x="-35.97" textLength="6.17" lengthAdjust="spacingAndGlyphs">B</text><text x="-29.80" textLength="5.71" lengthAdjust="spacingAndGlyphs">u</text><text x="-24.09" textLength="2.50" lengthAdjust="spacingAndGlyphs">l</text><text x="-21.59" textLength="5.21" lengthAdjust="spacingAndGlyphs">k</text><text x="-13.52" textLength="5.72" lengthAdjust="spacingAndGlyphs">2</text><text x="-7.79" textLength="6.77" lengthAdjust="spacingAndGlyphs">H</text><text x="1.84" textLength="2.50" lengthAdjust="spacingAndGlyphs">i</text><text x="4.34" textLength="5.71" lengthAdjust="spacingAndGlyphs">n</text><text x="10.04" textLength="5.71" lengthAdjust="spacingAndGlyphs">d</text><text x="15.76" textLength="2.50" lengthAdjust="spacingAndGlyphs">i</text><text x="18.26" textLength="3.70" lengthAdjust="spacingAndGlyphs">r</text><text x="21.96" textLength="5.54" lengthAdjust="spacingAndGlyphs">e</text><text x="27.49" textLength="4.95" lengthAdjust="spacingAndGlyphs">c</text><text x="32.44" textLength="3.53" lengthAdjust="spacingAndGlyphs">t</text></g>
<g transform="translate(507.30 85.85) rotate(-89.96)" font-size="10.26"><text x="-66.71" textLength="7.77" lengthAdjust="spacingAndGlyphs">M</text><text x="-58.94" textLength="5.51" lengthAdjust="spacingAndGlyphs">o</text><text x="-53.43" textLength="5.71" lengthAdjust="spacingAndGlyphs">n</text><text x="-47.73" textLength="5.51" lengthAdjust="spacingAndGlyphs">o</text><text x="-42.22" textLength="2.50" lengthAdjust="spacingAndGlyphs">l</text><text x="-39.72" textLength="5.52" lengthAdjust="spacingAndGlyphs">a</text><text x="-34.20" textLength="5.33" lengthAdjust="spacingAndGlyphs">y</text><text x="-28.87" textLength="5.54" lengthAdjust="spacingAndGlyphs">e</text><text x="-23.34" textLength="3.70" lengthAdjust="spacingAndGlyphs">r</text><text x="-16.78" textLength="5.72" lengthAdjust="spacingAndGlyphs">2</text><text x="-11.05" textLength="6.77" lengthAdjust="spacingAndGlyphs">H</text><text x="-1.42" textLength="6.93" lengthAdjust="spacingAndGlyphs">D</text><text x="5.51" textLength="5.17" lengthAdjust="spacingAndGlyphs">F</text><text x="10.68" textLength="5.50" lengthAdjust="spacingAndGlyphs">T</text><text x="19.04" textLength="3.51" lengthAdjust="spacingAndGlyphs">(</text><text x="22.55" textLength="5.43" lengthAdjust="spacingAndGlyphs">P</text><text x="27.98" textLength="6.17" lengthAdjust="spacingAndGlyphs">B</text><text x="34.16" textLength="5.69" lengthAdjust="spacingAndGlyphs">E</text><text x="39.84" textLength="3.25" lengthAdjust="spacingAndGlyphs">-</text><text x="43.09" textLength="6.98" lengthAdjust="spacingAndGlyphs">G</text><text x="50.07" textLength="6.98" lengthAdjust="spacingAndGlyphs">G</text><text x="57.04" textLength="6.16" lengthAdjust="spacingAndGlyphs">A</text><text x="63.20" textLength="3.51" lengthAdjust="spacingAndGlyphs">)</text></g>
<g transform="translate(525.30 85.85) rotate(-89.96)" font-size="10.26"><text x="-45.61" textLength="7.77" lengthAdjust="spacingAndGlyphs">M</text><text x="-37.84" textLength="5.51" lengthAdjust="spacingAndGlyphs">o</text><text x="-32.33" textLength="5.71" lengthAdjust="spacingAndGlyphs">n</text><text x="-26.63" textLength="5.51" lengthAdjust="spacingAndGlyphs">o</text><text x="-21.12" textLength="2.50" lengthAdjust="spacingAndGlyphs">l</text><text x="-18.62" textLength="5.52" lengthAdjust="spacingAndGlyphs">a</text><text x="-13.10" textLength="5.33" lengthAdjust="spacingAndGlyphs">y</text><text x="-7.77" textLength="5.54" lengthAdjust="spacingAndGlyphs">e</text><text x="-2.24" textLength="3.70" lengthAdjust="spacingAndGlyphs">r</text><text x="4.32" textLength="5.72" lengthAdjust="spacingAndGlyphs">2</text><text x="10.05" textLength="6.77" lengthAdjust="spacingAndGlyphs">H</text><text x="19.68" textLength="5.71" lengthAdjust="spacingAndGlyphs">d</text><text x="25.39" textLength="2.50" lengthAdjust="spacingAndGlyphs">i</text><text x="27.90" textLength="3.70" lengthAdjust="spacingAndGlyphs">r</text><text x="31.59" textLength="5.54" lengthAdjust="spacingAndGlyphs">e</text><text x="37.13" textLength="4.95" lengthAdjust="spacingAndGlyphs">c</text><text x="42.08" textLength="3.53" lengthAdjust="spacingAndGlyphs">t</text></g>
<g transform="translate(586.80 85.85) rotate(-89.96)" font-size="10.26"><text x="-45.29" textLength="6.17" lengthAdjust="spacingAndGlyphs">B</text><text x="-39.12" textLength="5.71" lengthAdjust="spacingAndGlyphs">u</text><text x="-33.41" textLength="2.50" lengthAdjust="spacingAndGlyphs">l</text><text x="-30.91" textLength="5.21" lengthAdjust="spacingAndGlyphs">k</text><text x="-22.84" textLength="6.93" lengthAdjust="spacingAndGlyphs">D</text><text x="-15.91" textLength="5.17" lengthAdjust="spacingAndGlyphs">F</text><text x="-10.73" textLength="5.50" lengthAdjust="spacingAndGlyphs">T</text><text x="-2.37" textLength="3.51" lengthAdjust="spacingAndGlyphs">(</text><text x="1.14" textLength="5.43" lengthAdjust="spacingAndGlyphs">P</text><text x="6.57" textLength="6.17" lengthAdjust="spacingAndGlyphs">B</text><text x="12.74" textLength="5.69" lengthAdjust="spacingAndGlyphs">E</text><text x="18.43" textLength="3.25" lengthAdjust="spacingAndGlyphs">-</text><text x="21.68" textLength="6.98" lengthAdjust="spacingAndGlyphs">G</text><text x="28.65" textLength="6.98" lengthAdjust="spacingAndGlyphs">G</text><text x="35.63" textLength="6.16" lengthAdjust="spacingAndGlyphs">A</text><text x="41.78" textLength="3.51" lengthAdjust="spacingAndGlyphs">)</text></g>
<g transform="translate(613.30 85.85) rotate(-89.96)" font-size="10.26"><text x="-9.80" textLength="6.17" lengthAdjust="spacingAndGlyphs">B</text><text x="-3.62" textLength="5.71" lengthAdjust="spacingAndGlyphs">u</text><text x="2.08" textLength="2.50" lengthAdjust="spacingAndGlyphs">l</text><text x="4.59" textLength="5.21" lengthAdjust="spacingAndGlyphs">k</text></g>
</svg></body></html>
